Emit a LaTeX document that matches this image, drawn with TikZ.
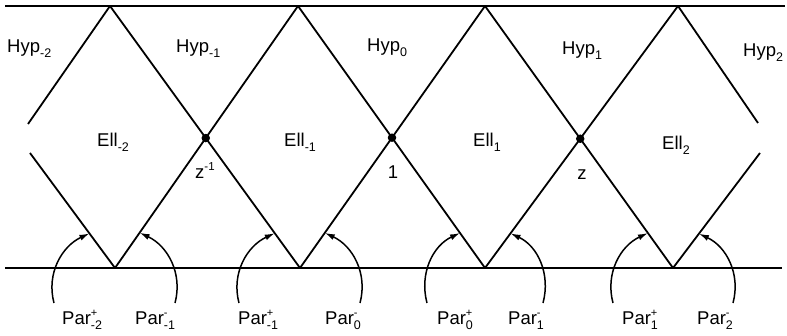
\documentclass[tikz,border=0pt]{standalone}
\usepackage{fontspec}
\setmainfont{Liberation Sans}
\usetikzlibrary{arrows.meta,calc}
\newcommand\lsub[1]{\raisebox{-4.5pt}{\fontsize{12.5}{12.5}\selectfont#1}}
\newcommand\lsupsub[2]{\rlap{\raisebox{8pt}{\fontsize{11}{11}\selectfont#1}}\raisebox{-4.5pt}{\fontsize{12.5}{12.5}\selectfont#2}}
\newcommand\lsupr[1]{\raisebox{8pt}{\fontsize{11.5}{11.5}\selectfont#1}}
\begin{document}
\begin{tikzpicture}[x=1pt,y=1pt,
  edge/.style={line width=1.8pt},
  lbl/.style={font=\fontsize{18.5}{18.5}\selectfont, inner sep=0pt, anchor=base west},
  lblc/.style={font=\fontsize{18.5}{18.5}\selectfont, inner sep=0pt, anchor=base},
  dot/.style={circle,fill,inner sep=0pt,minimum size=8.5pt},
  parc/.style={line width=1.5pt,-{Latex[length=10pt,width=6pt]}}]
\useasboundingbox (0,0) rectangle (787,336);
% frame lines
\coordinate (TL) at (5,330);
\coordinate (TR) at (785,330);
\coordinate (BL) at (5,68);
\coordinate (BR) at (782,68);
% vertices
\coordinate (T0) at (110,330);
\coordinate (T1) at (298,330);
\coordinate (T2) at (485,330);
\coordinate (T3) at (678,330);
\coordinate (B0) at (115,68);
\coordinate (B1) at (300,68);
\coordinate (B2) at (485,68);
\coordinate (B3) at (673,68);
% open ends
\coordinate (GLa) at (28,212);
\coordinate (GLb) at (30,183);
\coordinate (GRa) at (758,213);
\coordinate (GRb) at (760,183);
\draw[edge] (TL) -- (TR);
\draw[edge] (BL) -- (BR);
\draw[edge] (T0) -- (B1);
\draw[edge] (T1) -- (B0);
\draw[edge] (T1) -- (B2);
\draw[edge] (T2) -- (B1);
\draw[edge] (T2) -- (B3);
\draw[edge] (T3) -- (B2);
\draw[edge] (T0) -- (GLa);
\draw[edge] (GLb) -- (B0);
\draw[edge] (T3) -- (GRa);
\draw[edge] (GRb) -- (B3);
% crossing points
\node[dot] (C0) at (intersection of T0--B1 and T1--B0) {};
\node[dot] (C1) at (intersection of T1--B2 and T2--B1) {};
\node[dot] (C2) at (intersection of T2--B3 and T3--B2) {};
% arcs
\coordinate (S0l) at ($(B0)+(-61,-35)$);
\coordinate (S0r) at ($(B0)+(60,-35)$);
\coordinate (S1l) at ($(B1)+(-61,-35)$);
\coordinate (S1r) at ($(B1)+(60,-35)$);
\coordinate (S2l) at ($(B2)+(-58,-35)$);
\coordinate (S2r) at ($(B2)+(58,-35)$);
\coordinate (S3l) at ($(B3)+(-60,-35)$);
\coordinate (S3r) at ($(B3)+(60,-35)$);
\draw[parc] (S0l) to[out=105,in=205] ($(B0)!43pt!(GLb)$);
\draw[parc] (S0r) to[out=75,in=-25] ($(B0)!43pt!(T1)$);
\draw[parc] (S1l) to[out=105,in=205] ($(B1)!43pt!(T0)$);
\draw[parc] (S1r) to[out=75,in=-25] ($(B1)!43pt!(T2)$);
\draw[parc] (S2l) to[out=105,in=205] ($(B2)!43pt!(T1)$);
\draw[parc] (S2r) to[out=75,in=-25] ($(B2)!43pt!(T3)$);
\draw[parc] (S3l) to[out=105,in=205] ($(B3)!43pt!(T2)$);
\draw[parc] (S3r) to[out=75,in=-25] ($(B3)!43pt!(GRb)$);
% region labels
\node[lbl] (h-2) at (7,283) {Hyp\lsub{-2}};
\node[lbl] (h-1) at (176,283) {Hyp\lsub{-1}};
\node[lbl] (h0) at (367,284) {Hyp\lsub{0}};
\node[lbl] (h1) at (562,281) {Hyp\lsub{1}};
\node[lbl] (h2) at (743,279) {Hyp\lsub{2}};
\node[lbl] (e-2) at (97,189) {Ell\lsub{-2}};
\node[lbl] (e-1) at (284,189) {Ell\lsub{-1}};
\node[lbl] (e1) at (473,189) {Ell\lsub{1}};
\node[lbl] (e2) at (662,186) {Ell\lsub{2}};
\node[lbl] (zi) at (195,157) {z\lsupr{-1}};
\node[lblc] (one) at (393,157) {1};
\node[lblc] (zz) at (582,156) {z};
% parabolic labels
\node[lbl] (p1) at (62,11) {Par\lsupsub{+}{-2}};
\node[lbl] (p2) at (135,11) {Par\lsupsub{-}{-1}};
\node[lbl] (p3) at (238,11) {Par\lsupsub{+}{-1}};
\node[lbl] (p4) at (325,11) {Par\lsupsub{-}{0}};
\node[lbl] (p5) at (437,11) {Par\lsupsub{+}{0}};
\node[lbl] (p6) at (508,11) {Par\lsupsub{-}{1}};
\node[lbl] (p7) at (622,11) {Par\lsupsub{+}{1}};
\node[lbl] (p8) at (697,11) {Par\lsupsub{-}{2}};
\end{tikzpicture}
\end{document}
